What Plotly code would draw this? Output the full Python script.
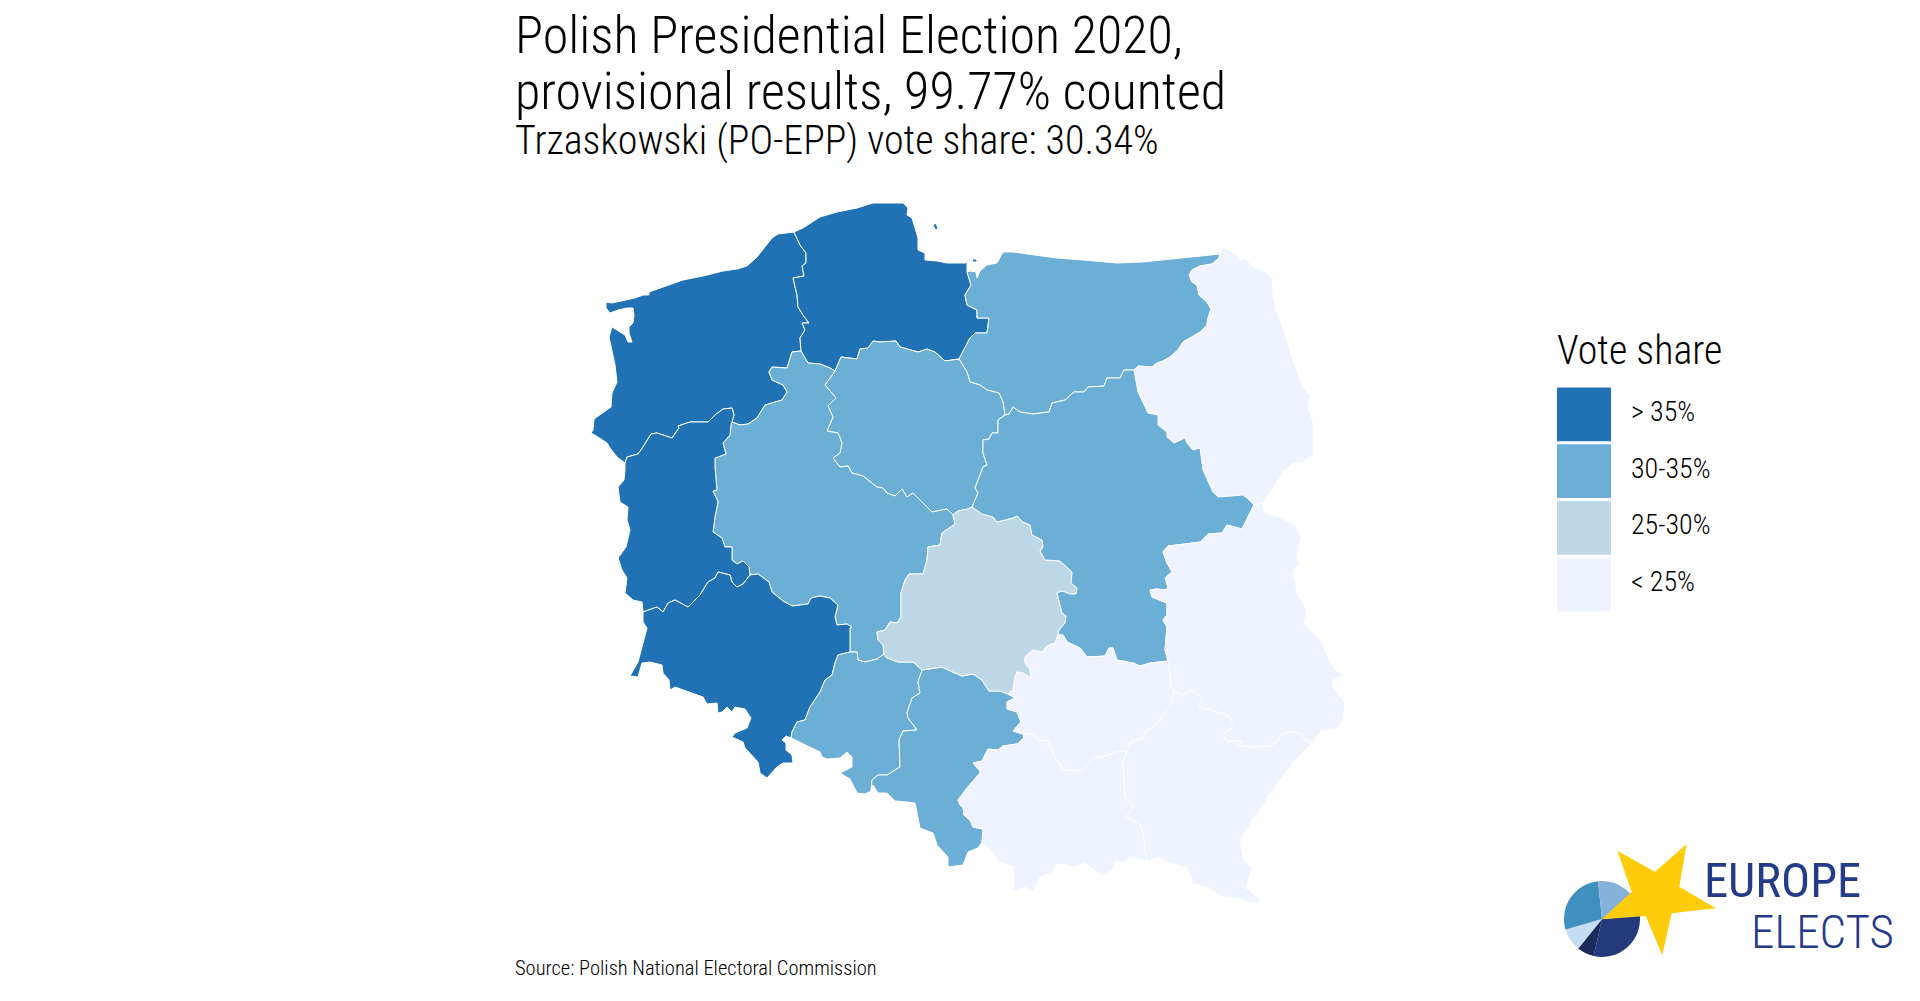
import plotly.graph_objects as go

# Traced borders, in picture pixels. Shared borders are kept once and reused.
ZP_COAST = [(794,232),(787,233),(778,234),(772,238),(765,247),(757,257),(747,266),(737,269),(723,271),(703,276),(683,280),(667,286),(649,292),(649,295),(643,295),(635,298),(623,301),(612,303),(606,302),(606,308),(610,313),(618,310),(627,308),(633,308),(634,315),(633,323),(629,327),(629,333),(632,342),(628,342),(625,335),(612,327),(609,337),(612,352),(615,365),(617,382),(612,393),(611,407),(603,413),(594,419),(593,430),(591,433),(598,437),(607,443),(610,448),(617,457),(625,463)]
ZP_LUB = [(625,463),(627,457),(638,454),(643,447),(651,434),(657,433),(672,438),(679,428),(678,426),(690,422),(708,422),(715,415),(723,409),(732,408),(734,415),(732,422)]
ZP_WLKP = [(732,422),(740,425),(748,424),(757,418),(765,405),(782,400),(787,392),(783,385),(772,380),(769,372),(772,367),(787,368),(792,352),(801,351)]
ZP_PM = [(801,351),(800,338),(805,330),(802,323),(809,323),(803,315),(798,307),(797,295),(793,278),(804,276),(802,266),(806,263),(806,253),(800,245),(794,232)]
PM_COAST = [(967,272),(967,262),(965,263),(947,263),(937,261),(925,260),(925,253),(918,250),(918,238),(915,228),(912,218),(907,215),(908,208),(903,203),(873,203),(857,208),(837,212),(820,217),(810,223),(803,228),(794,232)]
PM_WLKP = [(801,351),(808,363),(820,364),(830,368),(835,371)]
PM_KP = [(835,371),(841,357),(857,359),(860,349),(868,348),(873,341),(880,342),(896,341),(900,347),(918,352),(927,349),(935,352),(945,361),(959,359)]
PM_WM = [(959,359),(970,338),(975,333),(987,333),(989,318),(977,318),(977,310),(967,305),(965,295),(971,285),(967,272)]
WM_COAST = [(967,272),(970,271),(976,272),(977,278),(980,271),(987,265),(997,263),(1003,252),(1013,252),(1037,255),(1057,258),(1083,260),(1117,263),(1143,262),(1170,259),(1203,256),(1220,254)]
WM_POD = [(1220,254),(1219,258),(1212,264),(1200,266),(1192,270),(1189,275),(1192,282),(1197,285),(1199,295),(1207,302),(1211,309),(1208,318),(1207,325),(1200,332),(1192,337),(1183,342),(1178,350),(1170,357),(1163,361),(1157,363),(1152,367),(1138,366),(1134,370)]
WM_MAZ = [(1134,370),(1124,370),(1120,378),(1107,378),(1104,386),(1088,387),(1084,392),(1074,392),(1065,400),(1052,403),(1049,412),(1033,414),(1020,412),(1013,407),(1009,414),(1005,415)]
KP_WM = [(1005,415),(1003,402),(999,393),(987,390),(980,385),(970,382),(967,372),(959,359)]
KP_MAZ = [(1005,415),(998,420),(998,433),(992,433),(989,439),(983,440),(983,453),(987,465),(983,467),(975,488),(978,493),(972,507)]
KP_WLKP = [(835,371),(825,385),(836,398),(828,406),(833,417),(827,431),(838,433),(842,443),(840,453),(833,458),(840,467),(848,466),(852,473),(863,476),(877,487),(883,488),(887,493),(895,496),(902,489),(907,497),(913,493),(932,512),(947,509),(953,515)]
KP_LODZ = [(953,515),(958,511),(968,509),(972,507)]
LODZ_WLKP = [(953,515),(955,524),(942,533),(940,545),(928,547),(927,560),(923,574),(909,574),(905,580),(901,593),(901,617),(897,623),(890,622),(885,630),(877,632),(878,640),(883,645),(884,654)]
OPO_WLKP = [(884,654),(877,659),(865,662),(858,660),(857,652),(850,652)]
DOL_WLKP = [(850,652),(850,628),(852,627),(847,624),(837,625),(835,617),(838,605),(830,598),(820,596),(811,598),(808,604),(792,606),(783,601),(772,592),(769,582),(758,574),(750,575)]
LUB_WLKP = [(732,422),(731,425),(730,435),(723,443),(726,454),(715,458),(715,468),(717,490),(713,491),(718,502),(715,517),(713,532),(722,538),(725,547),(732,547),(732,560),(737,564),(743,561),(749,567),(750,575)]
LUB_DOL = [(750,575),(743,584),(737,587),(732,582),(730,575),(718,572),(715,578),(708,582),(700,595),(688,607),(675,600),(668,603),(663,612),(657,607),(643,612)]
LUB_WEST = [(625,463),(625,470),(624,480),(618,487),(620,502),(628,507),(627,520),(630,530),(626,547),(618,558),(622,570),(627,578),(625,593),(633,600),(642,602),(643,612)]
DOL_SOUTH = [(643,612),(643,622),(647,628),(643,643),(638,662),(630,676),(638,677),(642,663),(650,662),(662,665),(663,673),(669,680),(670,690),(675,687),(688,692),(703,697),(707,704),(717,703),(718,713),(722,712),(727,707),(732,712),(735,707),(745,709),(751,718),(747,728),(735,733),(732,737),(743,742),(745,748),(758,762),(760,773),(767,778),(777,767),(783,763),(793,763),(792,755),(786,750),(786,743),(782,740),(786,736),(791,738)]
DOL_OPO = [(791,738),(792,732),(797,722),(805,720),(810,707),(820,692),(825,680),(832,675),(835,663),(838,655),(850,652)]
OPO_SOUTH = [(791,738),(805,745),(820,752),(822,757),(827,759),(840,758),(847,752),(852,757),(852,767),(840,773),(850,779),(857,793),(865,794),(871,791)]
OPO_SLA = [(871,791),(872,780),(878,775),(887,775),(900,767),(899,740),(903,731),(917,730),(908,718),(907,713),(912,698),(920,693),(918,682),(922,670)]
LODZ_OPO = [(884,654),(887,658),(898,662),(913,662),(922,670)]
LODZ_SLA = [(922,670),(942,667),(948,670),(962,676),(973,674),(982,680),(989,691),(1000,691),(1008,694)]
SLA_SWI = [(1008,694),(1015,698),(1007,702),(1007,709),(1017,712),(1021,722),(1013,731),(1023,734)]
SLA_MAL = [(1023,734),(1024,738),(1017,744),(1003,746),(998,750),(988,749),(982,761),(973,763),(980,771),(980,773),(967,788),(958,800),(960,805),(963,807),(964,815),(970,820),(973,827),(983,829),(982,842)]
SLA_SOUTH = [(871,791),(873,785),(878,793),(887,793),(895,801),(907,802),(915,803),(917,813),(920,828),(933,833),(937,845),(948,857),(948,867),(963,865),(968,852),(978,848),(982,842)]
MAL_SWI = [(1023,734),(1033,734),(1038,740),(1048,741),(1055,757),(1063,770),(1082,771),(1093,758),(1110,755),(1115,752),(1127,751)]
MAL_PODK = [(1127,751),(1123,761),(1124,783),(1125,798),(1134,806),(1126,817),(1140,824),(1144,837),(1145,852),(1148,861)]
MAL_SOUTH = [(982,842),(983,842),(993,852),(997,860),(1013,867),(1014,883),(1012,891),(1020,890),(1025,887),(1034,892),(1040,877),(1053,872),(1055,865),(1065,864),(1075,867),(1085,863),(1102,876),(1115,868),(1113,862),(1125,862),(1130,857),(1148,861)]
PODK_SOUTH = [(1148,861),(1158,857),(1170,863),(1187,868),(1193,883),(1208,888),(1223,897),(1238,898),(1245,902),(1260,903),(1262,907),(1258,897),(1246,888),(1252,868),(1243,858),(1240,840),(1257,815),(1270,795),(1282,777),(1298,757),(1313,742)]
LUBEL_PODK = [(1313,742),(1305,740),(1300,733),(1292,732),(1284,733),(1272,746),(1252,747),(1238,745),(1243,741),(1233,741),(1227,742),(1223,736),(1227,730),(1234,728),(1230,717),(1218,712),(1198,707),(1202,697),(1192,690),(1182,695),(1174,691)]
PODK_SWI = [(1127,751),(1132,741),(1142,739),(1147,730),(1155,726),(1165,712),(1172,703),(1174,691)]
SWI_LUBEL = [(1168,661),(1170,678),(1171,685),(1174,691)]
LODZ_SWI = [(1058,635),(1055,643),(1047,646),(1042,652),(1033,650),(1025,657),(1025,663),(1030,669),(1031,678),(1023,673),(1017,672),(1015,677),(1013,690),(1008,694)]
LODZ_MAZ = [(972,507),(982,514),(993,517),(997,522),(1013,518),(1017,516),(1023,522),(1030,525),(1032,535),(1042,540),(1043,547),(1040,551),(1045,560),(1060,561),(1072,572),(1071,583),(1077,588),(1076,594),(1070,594),(1062,591),(1057,593),(1060,605),(1062,613),(1066,616),(1065,623),(1059,630),(1058,635)]
MAZ_SWI = [(1058,635),(1063,635),(1067,642),(1080,648),(1087,657),(1105,656),(1109,648),(1113,648),(1117,660),(1133,663),(1140,666),(1150,663),(1168,661)]
MAZ_LUBEL = [(1168,661),(1165,650),(1167,627),(1163,620),(1167,615),(1167,603),(1152,597),(1150,590),(1157,589),(1165,590),(1168,587),(1165,578),(1172,572),(1167,563),(1163,552),(1168,546),(1185,544),(1200,542),(1208,534),(1222,533),(1227,525),(1242,529),(1254,505)]
MAZ_POD = [(1254,505),(1247,498),(1243,495),(1218,497),(1213,492),(1203,470),(1200,448),(1193,450),(1187,443),(1185,438),(1174,443),(1167,437),(1167,432),(1158,425),(1158,415),(1148,413),(1143,403),(1138,392),(1134,370)]
POD_EAST = [(1220,254),(1223,247),(1228,250),(1237,255),(1240,260),(1245,258),(1253,267),(1263,270),(1272,278),(1273,295),(1277,312),(1283,328),(1292,358),(1303,388),(1310,395),(1308,408),(1313,422),(1314,442),(1313,455),(1303,462),(1293,463),(1282,473),(1272,490),(1263,503),(1254,505)]
LUBEL_EAST = [(1254,505),(1263,503),(1265,513),(1280,517),(1297,527),(1301,537),(1297,557),(1300,563),(1293,572),(1297,593),(1307,610),(1304,623),(1320,640),(1328,657),(1335,670),(1345,675),(1333,680),(1333,687),(1338,693),(1345,703),(1343,720),(1337,729),(1322,731),(1315,738),(1313,742)]
HEL_BITS = [[(935,224),(937,228),(936,229),(934,225)], [(973,260),(976,260),(976,261),(973,261)]]


def rev(arc):
    return arc[::-1]


# region name, border ring, class index in LEGEND_LABELS
REGIONS = ["Zachodniopomorskie", "Pomorskie", "Warmińsko-Mazurskie", "Podlaskie", "Kujawsko-Pomorskie",
           "Wielkopolskie", "Lubuskie", "Dolnośląskie", "Opolskie", "Śląskie", "Łódzkie", "Mazowieckie",
           "Lubelskie", "Świętokrzyskie", "Małopolskie", "Podkarpackie"]
REGION_CLASS = [0, 0, 1, 3, 1, 1, 0, 0, 1, 1, 2, 1, 3, 3, 3, 3]
RINGS = [
    ZP_COAST + ZP_LUB + ZP_WLKP + ZP_PM,
    PM_COAST + rev(ZP_PM) + PM_WLKP + PM_KP + PM_WM,
    WM_COAST + WM_POD + WM_MAZ + KP_WM + PM_WM,
    POD_EAST + MAZ_POD + rev(WM_POD),
    rev(PM_KP) + KP_WLKP + KP_LODZ + rev(KP_MAZ) + KP_WM,
    rev(ZP_WLKP) + LUB_WLKP + rev(DOL_WLKP) + rev(OPO_WLKP) + rev(LODZ_WLKP) + rev(KP_WLKP) + rev(PM_WLKP),
    rev(ZP_LUB) + LUB_WEST + rev(LUB_DOL) + rev(LUB_WLKP),
    LUB_DOL + DOL_SOUTH + DOL_OPO + DOL_WLKP,
    rev(DOL_OPO) + OPO_SOUTH + OPO_SLA + rev(LODZ_OPO) + OPO_WLKP,
    rev(OPO_SLA) + SLA_SOUTH + rev(SLA_MAL) + rev(SLA_SWI) + rev(LODZ_SLA),
    KP_LODZ + LODZ_MAZ + LODZ_SWI + rev(LODZ_SLA) + rev(LODZ_OPO) + rev(LODZ_WLKP),
    rev(WM_MAZ) + rev(MAZ_POD) + rev(MAZ_LUBEL) + rev(MAZ_SWI) + rev(LODZ_MAZ) + rev(KP_MAZ),
    MAZ_LUBEL + LUBEL_EAST + LUBEL_PODK + rev(SWI_LUBEL),
    MAZ_SWI + SWI_LUBEL + rev(PODK_SWI) + rev(MAL_SWI) + rev(SLA_SWI) + rev(LODZ_SWI),
    MAL_SWI + MAL_PODK + rev(MAL_SOUTH) + rev(SLA_MAL),
    PODK_SWI + rev(LUBEL_PODK) + rev(PODK_SOUTH) + rev(MAL_PODK),
]

LEGEND_LABELS = ["> 35%", "30-35%", "25-30%", "< 25%"]
LEGEND_COLORS = ["#2171b5", "#6baed6", "#bdd7e7", "#eff3ff"]

LOGO_SHARES = [107.6, 26.2, 35, 100.2, 91]
LOGO_COLORS = ["#253a7b", "#1b2c5c", "#c6dcf0", "#3f90bf", "#85b1da"]
STAR = [(1617.3,850.7),(1655,871.7),(1686.7,844),(1679.3,886.7),(1716,908.3),(1671.7,913.3),(1662.3,955),(1645.7,916),(1601.7,919.3),(1631.7,891.7)]

W, H = 1920, 1001
FONT = "Roboto Condensed"

fig = go.Figure()

for name, ring, cls in zip(REGIONS, RINGS, REGION_CLASS):
    fig.add_trace(go.Scatter(
        x=[p[0] for p in ring],
        y=[p[1] for p in ring],
        mode="lines",
        fill="toself",
        fillcolor=LEGEND_COLORS[cls],
        line=dict(color="white", width=1),
        name=name,
        text=name + ": " + LEGEND_LABELS[cls],
        hoverinfo="text",
        showlegend=False,
    ))

for bit in HEL_BITS:
    fig.add_trace(go.Scatter(
        x=[p[0] for p in bit],
        y=[p[1] for p in bit],
        mode="lines",
        fill="toself",
        fillcolor=LEGEND_COLORS[0],
        line=dict(color=LEGEND_COLORS[0], width=1),
        hoverinfo="skip",
        showlegend=False,
    ))

# legenda como barras num eixo proprio
fig.add_trace(go.Bar(
    x=[1] * len(LEGEND_LABELS),
    y=LEGEND_LABELS,
    orientation="h",
    marker=dict(color=LEGEND_COLORS, line=dict(width=0)),
    xaxis="x2",
    yaxis="y2",
    hoverinfo="skip",
    showlegend=False,
))

fig.add_trace(go.Pie(
    values=LOGO_SHARES,
    marker=dict(colors=LOGO_COLORS, line=dict(width=0)),
    sort=False,
    direction="clockwise",
    rotation=85,
    textinfo="none",
    hoverinfo="skip",
    domain=dict(x=[1564 / W, 1640 / W], y=[1 - 957 / H, 1 - 881 / H]),
    showlegend=False,
))


def label(text, x, baseline, size, color="black", weight=300):
    fig.add_annotation(x=x, y=baseline, xref="x", yref="y", text=text, showarrow=False,
                       xanchor="left", yanchor="bottom", yshift=-size * 0.24,
                       align="left", borderpad=0,
                       font=dict(family=FONT, size=size, color=color, weight=weight))


label("Polish Presidential Election 2020,", 513.5, 55, 52)
label("provisional results, 99.77% counted", 513.5, 111, 52)
label("Trzaskowski (PO-EPP) vote share: 30.34%", 513.5, 155, 40)
label("Source: Polish National Electoral Commission", 513.5, 976, 20.5)
label("Vote share", 1556, 365, 40)
label("EUROPE", 1703, 898, 48.5, "#243b8a", 400)
label("ELECTS", 1750, 949, 47, "#243b8a", 300)

for text in LEGEND_LABELS:
    fig.add_annotation(x=1, y=text, xref="x2", yref="y2", text=text, showarrow=False,
                       xanchor="left", yanchor="middle", xshift=18, yshift=3,
                       font=dict(family=FONT, size=28, color="black", weight=300))

fig.update_layout(
    width=W,
    height=H,
    margin=dict(l=0, r=0, t=0, b=0),
    paper_bgcolor="white",
    plot_bgcolor="white",
    bargap=0.05,
    xaxis=dict(range=[0, W], visible=False, fixedrange=True),
    yaxis=dict(range=[H, 0], visible=False, fixedrange=True),
    xaxis2=dict(domain=[1557 / W, 1611 / W], range=[0, 1], visible=False, fixedrange=True, anchor="y2"),
    yaxis2=dict(
        domain=[1 - 613 / H, 1 - 386 / H],
        anchor="x2",
        categoryorder="array",
        categoryarray=LEGEND_LABELS[::-1],
        visible=False,
        fixedrange=True,
    ),
    shapes=[dict(
        type="path",
        xref="x",
        yref="y",
        path="M " + " L ".join(f"{x},{y}" for x, y in STAR) + " Z",
        fillcolor="#fecc0a",
        line=dict(width=0),
        layer="above",
    )],
)

fig.write_html("out.html", post_script="document.body.style.margin = '0';", config=dict(displayModeBar=False))
